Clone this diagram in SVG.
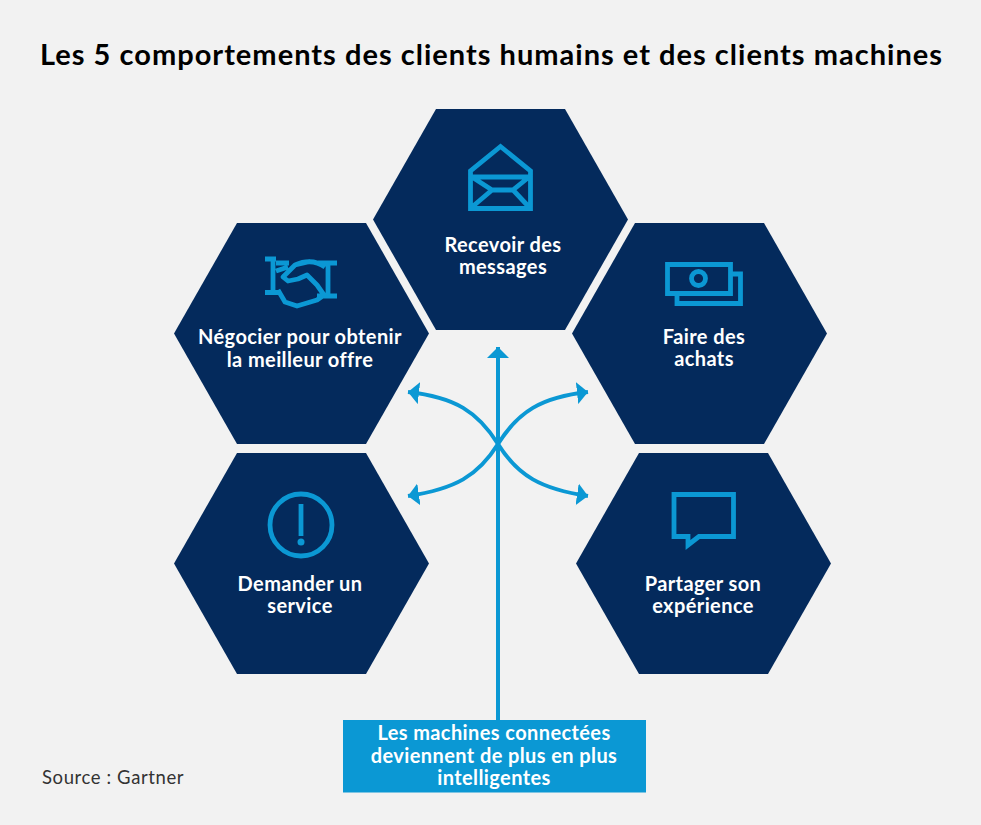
<svg xmlns="http://www.w3.org/2000/svg" width="981" height="825" viewBox="0 0 981 825">
<defs>
<polygon id="hex" points="-127.500,0 -64.500,-110.500 64.500,-110.500 127.500,0 64.500,110.500 -64.500,110.500"/>
<marker id="ah" markerUnits="userSpaceOnUse" markerWidth="24" markerHeight="24" refX="11" refY="11" orient="auto"><polygon points="0,0 11,11 0,22" fill="#0b98d4"/></marker>
</defs>
<style>
.h{fill:#042a5c}
.i{fill:none;stroke:#0b98d4;stroke-width:4.800;stroke-linejoin:round}
.m{stroke-linejoin:miter;stroke-miterlimit:8}
.t{font-family:"Lato","Liberation Sans",sans-serif;font-weight:700;font-size:20px;fill:#fff;text-anchor:middle;letter-spacing:.4px}
.c{fill:none;stroke:#0b98d4;stroke-width:4}
</style>
<rect width="981" height="825" fill="#f2f2f2"/>
<text x="491" y="65" text-anchor="middle" textLength="902" lengthAdjust="spacing" style="font-family:Lato,'Liberation Sans',sans-serif;font-weight:700;font-size:29px;fill:#000">Les 5 comportements des clients humains et des clients machines</text>
<g id="node-recevoir">
<use href="#hex" x="500.500" y="219.500" class="h"/>
<path class="i m" d="M470.500 171V208.500H530.500V171L500.500 146.500ZM472 177L492 190L472 207M529 177L513 190L529 207M472 177H529M492 190H513"/>
<text class="t" x="503" y="251.500">Recevoir des</text>
<text class="t" x="503" y="273.500">messages</text>
</g>
<g id="node-negocier">
<use href="#hex" x="301.500" y="333.500" class="h"/>
<path class="i" d="M265 259H276M265 292.500H281M273 258V294M317 296H337M318 263H337M328 262V298M276 263H289M276 271L288 267M310 261.500L295 265L283 277L288 281L298 279L307 275L317 285L324 295M295 265C302 262 314 259 325 267M278 290L285 302L297 306L317 300L324 295"/>
<text class="t" x="300" y="343.500">Négocier pour obtenir</text>
<text class="t" x="300" y="366.500">la meilleur offre</text>
</g>
<g id="node-achats">
<use href="#hex" x="699.500" y="333.500" class="h"/>
<path class="i m" d="M667.500 264.500H730.500V293.500H667.500ZM730.500 274H740.500V303.500H677V293.500"/>
<circle class="i" cx="698.500" cy="278.500" r="7"/>
<text class="t" x="704" y="343.500">Faire des</text>
<text class="t" x="704" y="365.500">achats</text>
</g>
<g id="node-service">
<use href="#hex" x="301.500" y="563.500" class="h"/>
<circle class="i" cx="301" cy="525" r="31"/>
<path class="i" d="M301 504V536"/>
<circle cx="301" cy="542" r="3.500" fill="#0b98d4"/>
<text class="t" x="300" y="590.500">Demander un</text>
<text class="t" x="300" y="612.500">service</text>
</g>
<g id="node-partager">
<use href="#hex" x="703.500" y="563.500" class="h"/>
<path class="i m" d="M674 494.500H733.500V536.500H699L688 545V536.500H674Z"/>
<text class="t" x="703" y="590.500">Partager son</text>
<text class="t" x="703" y="612.500">expérience</text>
</g>
<g id="connectors">
<path class="c" d="M498 720V347" marker-end="url(#ah)"/>
<path class="c" d="M498 444C478 412 455 397 408 392" marker-end="url(#ah)"/>
<path class="c" d="M498 444C518 412 541 397 588 392" marker-end="url(#ah)"/>
<path class="c" d="M498 444C478 476 455 489 408 496" marker-end="url(#ah)"/>
<path class="c" d="M498 444C518 476 541 489 588 496" marker-end="url(#ah)"/>
</g>
<g id="node-machines">
<rect x="343" y="720" width="303" height="72.500" fill="#0b98d4"/>
<text class="t" x="494" y="739.500">Les machines connectées</text>
<text class="t" x="494" y="762.500">deviennent de plus en plus</text>
<text class="t" x="494" y="784.500">intelligentes</text>
</g>
<text id="source" x="42" y="783.500" style="font-family:Lato,'Liberation Sans',sans-serif;font-size:18.500px;fill:#333;letter-spacing:.6px">Source : Gartner</text>
</svg>
